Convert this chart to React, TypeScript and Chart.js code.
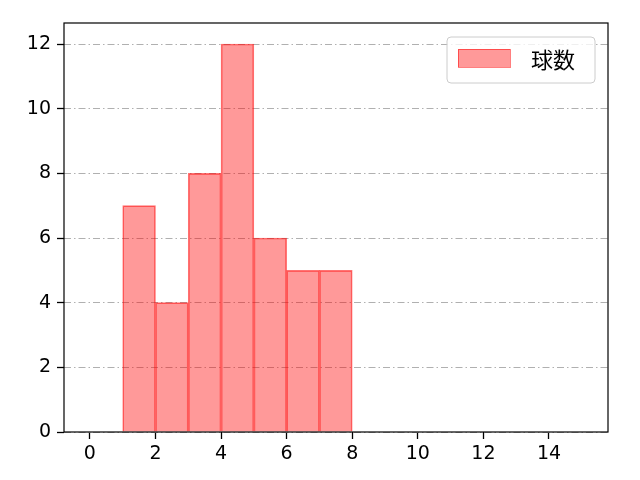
import React, { useEffect, useRef } from "react";
import { Chart, registerables } from "chart.js";

Chart.register(...registerables);

const binStarts = [1, 2, 3, 4, 5, 6, 7];
const counts = [7, 4, 8, 12, 6, 5, 5];
const xTicks = [0, 2, 4, 6, 8, 10, 12, 14];
const yTicks = [0, 2, 4, 6, 8, 10, 12];
const seriesLabel = "球数";

const FONT = "'DejaVu Sans', 'Noto Sans CJK JP', sans-serif";
const CJK = "'Noto Sans CJK JP', sans-serif";

const framePlugin = {
  id: "frameLegend",
  afterDatasetsDraw(chart: any) {
    const { ctx, chartArea } = chart;
    const { left, right, top, bottom } = chartArea;
    ctx.save();
    ctx.strokeStyle = "#000";
    ctx.lineWidth = 1.2;
    ctx.setLineDash([]);
    ctx.strokeRect(left, top, right - left, bottom - top);
    // legend
    const lx = 447, ly = 37, lw = 148, lh = 46, r = 4;
    ctx.fillStyle = "rgba(255,255,255,0.8)";
    ctx.strokeStyle = "#cccccc";
    ctx.lineWidth = 1;
    ctx.beginPath();
    ctx.moveTo(lx + r, ly);
    ctx.lineTo(lx + lw - r, ly);
    ctx.arcTo(lx + lw, ly, lx + lw, ly + r, r);
    ctx.lineTo(lx + lw, ly + lh - r);
    ctx.arcTo(lx + lw, ly + lh, lx + lw - r, ly + lh, r);
    ctx.lineTo(lx + r, ly + lh);
    ctx.arcTo(lx, ly + lh, lx, ly + lh - r, r);
    ctx.lineTo(lx, ly + r);
    ctx.arcTo(lx, ly, lx + r, ly, r);
    ctx.closePath();
    ctx.fill();
    ctx.stroke();
    ctx.fillStyle = "rgba(255,0,0,0.4)";
    ctx.fillRect(458, 49, 52, 18);
    ctx.strokeStyle = "rgba(255,0,0,0.5)";
    ctx.strokeRect(458.5, 49.5, 52, 18);
    ctx.fillStyle = "#000";
    ctx.font = `22px ${CJK}`;
    ctx.textBaseline = "middle";
    ctx.textAlign = "left";
    ctx.fillText(seriesLabel, 531, 60);
    ctx.restore();
  },
};

export default function App() {
  const ref = useRef<HTMLCanvasElement>(null);
  useEffect(() => {
    document.body.style.margin = "0";
    const data = binStarts.map((s, i) => ({ x: s + 0.5, y: counts[i] }));
    const chart = new Chart(ref.current!, {
      type: "bar",
      data: {
        datasets: [
          {
            label: seriesLabel,
            data,
            backgroundColor: "rgba(255,0,0,0.4)",
            borderColor: "rgba(255,0,0,0.55)",
            borderWidth: 1,
            barPercentage: 1,
            categoryPercentage: 1,
          },
        ],
      },
      options: {
        animation: false,
        responsive: false,
        layout: { padding: { top: 23, right: 32, left: 0, bottom: 0 } },
        plugins: { legend: { display: false }, tooltip: { enabled: false } },
        scales: {
          x: {
            type: "linear",
            min: -0.79,
            max: 15.8,
            offset: false,
            afterBuildTicks: (s: any) => {
              s.ticks = xTicks.map((v) => ({ value: v }));
            },
            afterFit: (s: any) => {
              s.height = 48;
            },
            grid: {
              offset: false,
              drawOnChartArea: false,
              tickLength: 7,
              tickColor: "#000",
              tickWidth: 1.3,
            },
            border: { display: false },
            ticks: {
              color: "#000",
              font: { family: FONT, size: 19 },
              padding: 4,
              maxRotation: 0,
            },
          },
          y: {
            min: 0,
            max: 12.65,
            afterBuildTicks: (s: any) => {
              s.ticks = yTicks.map((v) => ({ value: v }));
            },
            afterFit: (s: any) => {
              s.width = 64;
            },
            grid: {
              color: "#b0b0b0",
              lineWidth: 1,
              tickBorderDash: [],
              tickLength: 7,
              tickColor: "#000",
              tickWidth: 1.3,
            } as any,
            border: { display: false, dash: [7, 3, 1.5, 3] },
            ticks: {
              color: "#000",
              font: { family: FONT, size: 19 },
              padding: 6,
            },
          },
        },
      } as any,
      plugins: [framePlugin],
    });
    return () => chart.destroy();
  }, []);
  return (
    <div style={{ position: "absolute", left: 0, top: 0, width: 640, height: 480 }}>
      <canvas ref={ref} width={640} height={480} />
    </div>
  );
}
